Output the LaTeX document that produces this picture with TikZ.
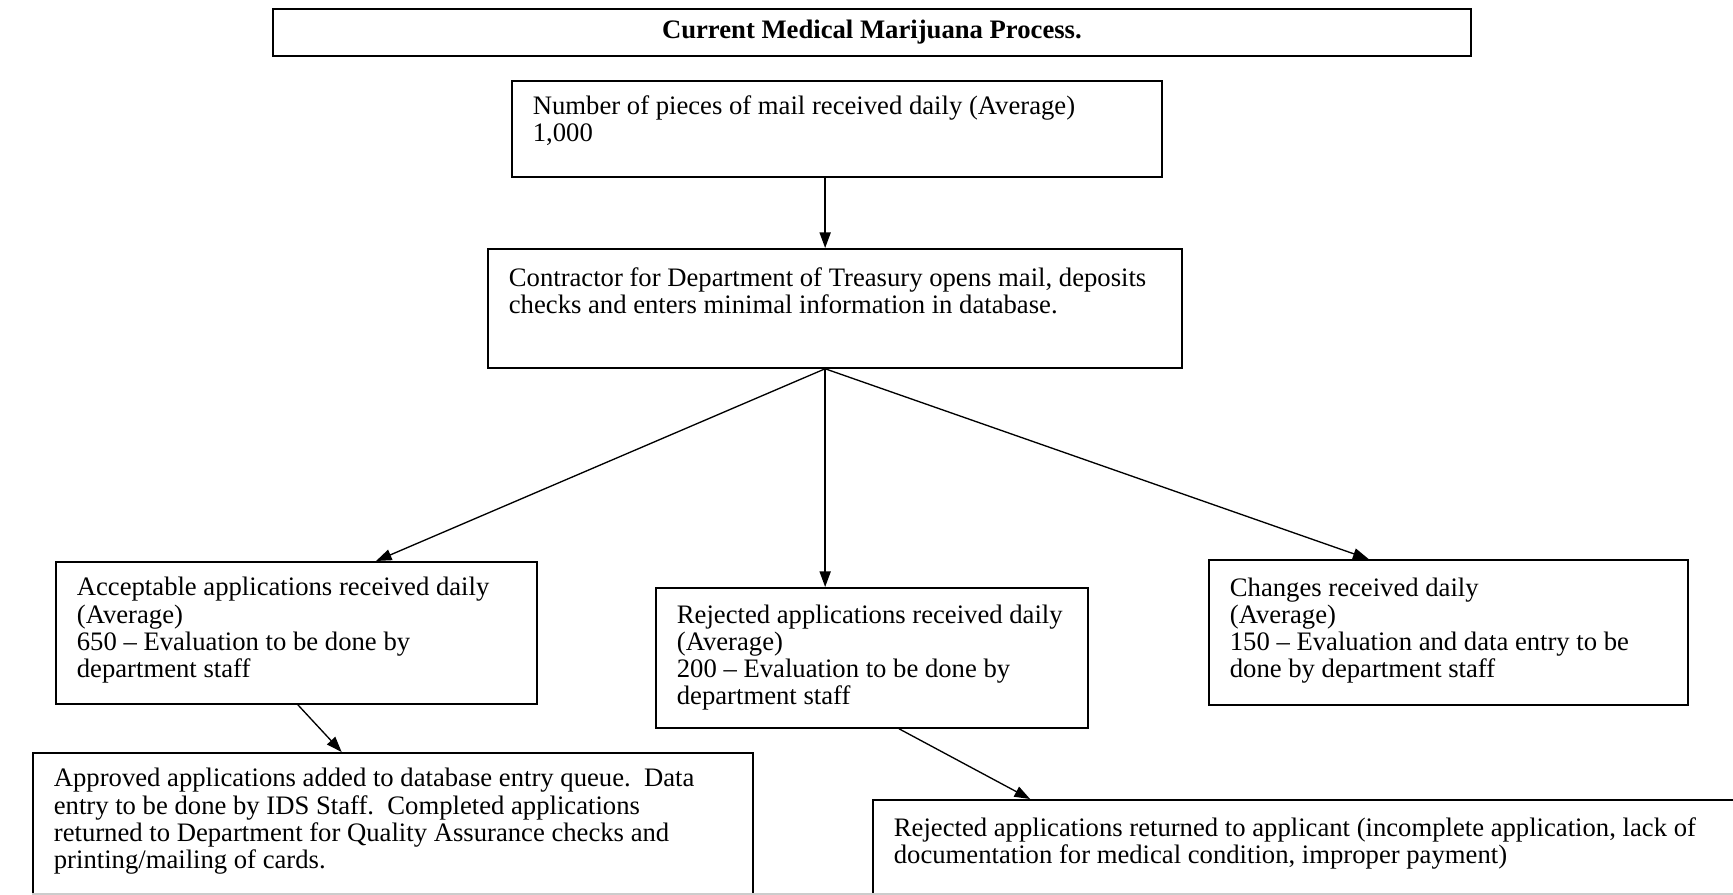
\documentclass[tikz,border=0pt]{standalone}
\usepackage{fontspec}
\setmainfont{Liberation Serif}
\usepackage{tikz}
\usetikzlibrary{arrows.meta,calc}
\tikzset{box/.style={draw,line width=0.8pt,anchor=north west,inner sep=0pt,font=\fontsize{12}{12.2}\selectfont},
  flow/.style={line width=0.6pt,-{Triangle[length=7pt,width=5pt]}}}
\newcommand{\boxtxt}[4][15.3pt]{% [first line] <width> <height> <lines>
  \parbox[t][#3][t]{#2}{\raggedright\leftskip=9.45pt\lineskiplimit=-20pt\rule{0pt}{#1}#4}}

\begin{document}
\begin{tikzpicture}[x=0.45pt,y=-0.45pt]
  \useasboundingbox (0,0) rectangle (1733,895);
  \node[box,minimum width=539.1pt,minimum height=21.15pt,font=\fontsize{12}{12.2}\selectfont\bfseries] (title) at (272,8) {Current Medical Marijuana Process.};
  \node[box] (mail) at (511,80) {\boxtxt{292.5pt}{43.2pt}{Number of pieces of mail received daily (Average)\\1,000}};
  \node[box] (treasury) at (487,248) {\boxtxt[17pt]{312.3pt}{53.55pt}{Contractor for Department of Treasury opens mail, deposits\\checks and enters minimal information in database.}};
  \node[box] (accept) at (55,561) {\boxtxt{216.45pt}{63.9pt}{Acceptable applications received daily\\(Average)\\650 -- Evaluation to be done by\\department staff}};
  \node[box] (reject) at (655,587) {\boxtxt[16pt]{194.4pt}{63pt}{Rejected applications received daily\\(Average)\\200 -- Evaluation to be done by\\department staff}};
  \node[box] (changes) at (1208,559) {\boxtxt[16.3pt]{215.55pt}{65.25pt}{Changes received daily\\(Average)\\150 -- Evaluation and data entry to be\\done by department staff}};
  \node[box] (approved) at (32,752) {\boxtxt{324pt}{80pt}{Approved applications added to database entry queue.\ \ Data\\entry to be done by IDS Staff.\ \ Completed applications\\returned to Department for Quality Assurance checks and\\printing/mailing of cards.}};
  \node[box] (returned) at (872,799) {\boxtxt[16.3pt]{417.6pt}{59pt}{Rejected applications returned to applicant (incomplete application, lack of\\documentation for medical condition, improper payment)}};
  % arrows
  \coordinate (hub) at ($(treasury.south west)!0.486!(treasury.south east)$);
  \draw[flow] (hub |- mail.south) -- (hub |- treasury.north);
  \draw[flow] (hub) -- ($(accept.north west)!0.665!(accept.north east)$);
  \draw[flow] (hub) -- (hub |- reject.north);
  \draw[flow] (hub) -- ($(changes.north west)!0.334!(changes.north east)$);
  \draw[flow] ($(accept.south west)!0.503!(accept.south east)$) -- ($(approved.north west)!0.429!(approved.north east)$);
  \draw[flow] ($(reject.south west)!0.5625!(reject.south east)$) -- ($(returned.north west)!0.17!(returned.north east)$);
  \draw[black!20,line width=0.5pt] (32,894) -- (1733,894);
\end{tikzpicture}
\end{document}
